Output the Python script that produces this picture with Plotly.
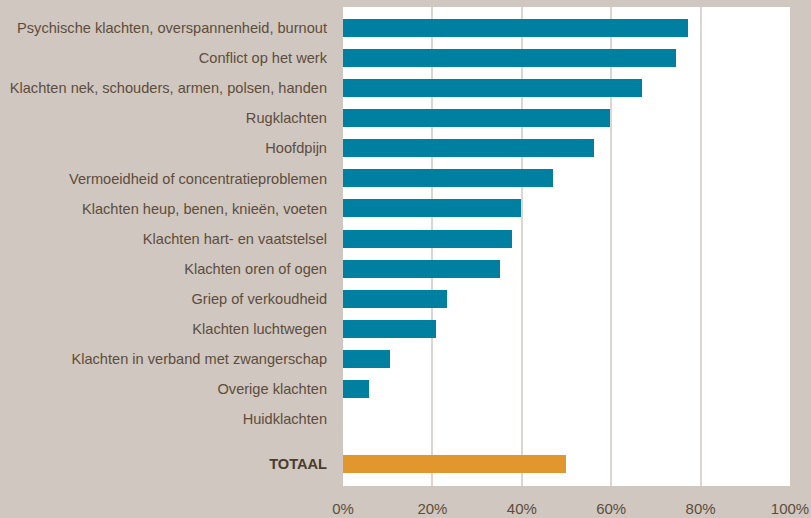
import plotly.graph_objects as go

categories = [
    "Psychische klachten, overspannenheid, burnout",
    "Conflict op het werk",
    "Klachten nek, schouders, armen, polsen, handen",
    "Rugklachten",
    "Hoofdpijn",
    "Vermoeidheid of concentratieproblemen",
    "Klachten heup, benen, knieën, voeten",
    "Klachten hart- en vaatstelsel",
    "Klachten oren of ogen",
    "Griep of verkoudheid",
    "Klachten luchtwegen",
    "Klachten in verband met zwangerschap",
    "Overige klachten",
    "Huidklachten",
]
values = [77.2, 74.5, 66.8, 59.7, 56.2, 47.0, 39.8, 37.8, 35.1, 23.2, 20.7, 10.6, 5.8, 0.0]
total_label = "TOTAAL"
total_value = 49.9

x_ticks = [0, 20, 40, 60, 80, 100]
x_ticktext = ["0%", "20%", "40%", "60%", "80%", "100%"]

pos = list(range(len(categories)))
total_pos = len(categories) + 0.5

fig = go.Figure()
fig.add_trace(go.Bar(
    x=values, y=pos, orientation="h", width=0.6,
    marker=dict(color="#0080a1", line=dict(width=0)),
    hoverinfo="x+y",
))
fig.add_trace(go.Bar(
    x=[total_value], y=[total_pos], orientation="h", width=0.6,
    marker=dict(color="#e1972e", line=dict(width=0)),
))

tickvals = pos + [total_pos]
ticktext = categories + ["<b><span style='color:#4a3b2c'>" + total_label + "</span></b>"]

fig.update_layout(
    width=811, height=518,
    paper_bgcolor="#cfc7c0",
    plot_bgcolor="#ffffff",
    showlegend=False,
    bargap=0,
    margin=dict(l=343, r=21, t=7, b=32, autoexpand=False),
    font=dict(family="Liberation Sans, Arial, sans-serif", size=14.6, color="#5e4d3c"),
    xaxis=dict(
        range=[0, 100], tickvals=x_ticks, ticktext=x_ticktext,
        showgrid=True, gridcolor="#dbd6d1", gridwidth=2,
        zeroline=False, showline=False, ticks="", automargin=False,
        ticklabelstandoff=12,
        tickfont=dict(size=15, color="#5e4d3c"),
    ),
    yaxis=dict(
        range=[total_pos + 0.73, -0.7],
        tickvals=tickvals, ticktext=ticktext, automargin=False,
        showgrid=False, zeroline=False, showline=False,
        ticks="", ticklabelstandoff=15,
        tickfont=dict(size=14.6, color="#5e4d3c"),
    ),
)

fig.write_html(
    "out.html",
    config={"displayModeBar": False},
    post_script="document.body.style.margin='0px';document.body.style.padding='0px';",
)
